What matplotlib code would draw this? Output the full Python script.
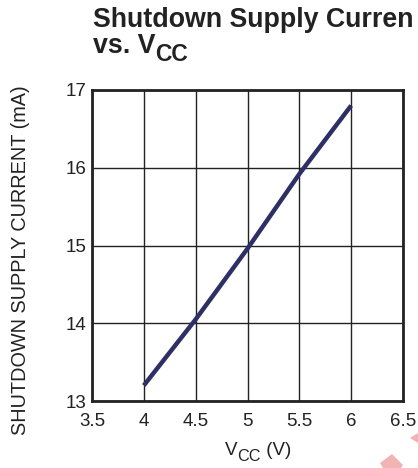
import matplotlib
matplotlib.use("Agg")
import matplotlib.pyplot as plt
from matplotlib.patches import Polygon

plt.rcParams['font.family'] = ['Liberation Sans', 'DejaVu Sans']

# Data
vcc = [4.0, 4.5, 5.0, 5.5, 6.0]
current_ma = [13.2, 14.05, 14.96, 15.92, 16.8]
xticks = [3.5, 4, 4.5, 5, 5.5, 6, 6.5]
xtick_labels = ["3.5", "4", "4.5", "5", "5.5", "6", "6.5"]
yticks = [13, 14, 15, 16, 17]
ytick_labels = ["13", "14", "15", "16", "17"]

W, H = 418, 468
INK = "#222222"
fig = plt.figure(figsize=(W / 100, H / 100), dpi=100)
renderer = fig.canvas.get_renderer()
ax = fig.add_axes([92 / W, 1 - 401 / H, (403 - 92) / W, (401 - 90) / H])

ax.plot(vcc, current_ma, color="#2e2f64", lw=3.2, solid_capstyle="butt",
        solid_joinstyle="round", zorder=3)

ax.set_xlim(3.5, 6.5)
ax.set_ylim(13, 17)
ax.set_xticks(xticks)
ax.set_xticklabels(xtick_labels)
ax.set_yticks(yticks)
ax.set_yticklabels(ytick_labels)
ax.tick_params(axis="both", length=0, labelsize=13.5, colors=INK)
ax.tick_params(axis="x", pad=9)
ax.tick_params(axis="y", pad=4)
ax.grid(True, color=INK, lw=1.0)
ax.set_axisbelow(True)
for s in ax.spines.values():
    s.set_linewidth(2.0)
    s.set_color(INK)


def rich(x_px, base_px, parts, ha="left"):
    """parts: list of (text, size, dy_px, weight)"""
    widths = []
    for txt, size, dy, wt in parts:
        t = fig.text(0, 0, txt, fontsize=size, fontweight=wt)
        widths.append(t.get_window_extent(renderer).width)
        t.remove()
    total = sum(widths)
    x = x_px - (total / 2 if ha == "center" else 0)
    for (txt, size, dy, wt), w in zip(parts, widths):
        fig.text(x / W, 1 - (base_px + dy) / H, txt, fontsize=size, fontweight=wt,
                 color=INK, ha="left", va="baseline")
        x += w


rich(93, 27, [("Shutdown Supply Curren", 19.3, 0, "bold")])
rich(93, 53, [("vs. V", 19.3, 0, "bold"), ("CC", 16.5, 8, "bold")])
rich(258, 455, [("V", 13.5, 0, "normal"), ("CC", 11.7, 6, "normal"),
                (" (V)", 13.5, 0, "normal")], ha="center")

fig.text(21 / W, 1 - 260 / H, "SHUTDOWN SUPPLY CURRENT (mA)", fontsize=14.3,
         color=INK, rotation=90, ha="center", va="center")

# watermark fragments
pink = "#f2b3b3"
fig.patches.append(Polygon([[410 / W, 1 - 438 / H], [418 / W, 1 - 433 / H], [418 / W, 1 - 443 / H]],
                           closed=True, transform=fig.transFigure, color=pink, lw=0))
fig.patches.append(Polygon([[380 / W, 1 - 463 / H], [392 / W, 1 - 454 / H], [403 / W, 1 - 465 / H],
                            [401 / W, 1 - 468 / H], [383 / W, 1 - 468 / H]],
                           closed=True, transform=fig.transFigure, color=pink, lw=0))

fig.savefig("out.png", dpi=100)
